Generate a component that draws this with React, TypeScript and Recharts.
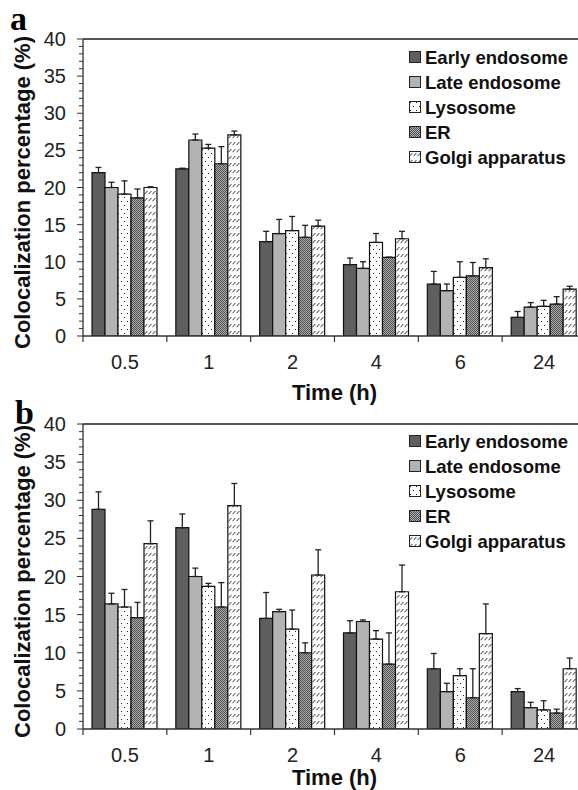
import React from "react";
import { Bar, BarChart, ErrorBar, Legend, ReferenceLine, XAxis, YAxis } from "recharts";

const times = ["0.5", "1", "2", "4", "6", "24"];
const seriesKeys = ["early", "late", "lyso", "er", "golgi"];
const seriesNames = ["Early endosome", "Late endosome", "Lysosome", "ER", "Golgi apparatus"];

// panel a
const earlyA = [22.0, 22.5, 12.7, 9.6, 7.0, 2.5];
const earlyAErr = [0.7, 0.1, 1.4, 0.9, 1.7, 0.8];
const lateA = [20.0, 26.4, 13.8, 9.1, 6.1, 3.9];
const lateAErr = [0.7, 0.8, 1.9, 0.9, 0.9, 0.6];
const lysoA = [19.1, 25.3, 14.2, 12.6, 7.9, 4.0];
const lysoAErr = [1.8, 0.5, 1.9, 1.2, 2.1, 0.8];
const erA = [18.6, 23.2, 13.3, 10.6, 8.1, 4.3];
const erAErr = [1.2, 2.3, 1.6, 0, 1.8, 1.0];
const golgiA = [20.0, 27.1, 14.8, 13.1, 9.2, 6.3];
const golgiAErr = [0.1, 0.5, 0.8, 1.0, 1.2, 0.4];

// panel b
const earlyB = [28.8, 26.4, 14.5, 12.6, 7.9, 4.9];
const earlyBErr = [2.3, 1.8, 3.4, 1.6, 2.0, 0.4];
const lateB = [16.4, 20.0, 15.4, 14.1, 4.9, 2.8];
const lateBErr = [1.4, 1.1, 0.3, 0.2, 1.1, 0.7];
const lysoB = [16.0, 18.7, 13.1, 11.8, 7.0, 2.5];
const lysoBErr = [2.3, 0.4, 2.5, 1.1, 0.9, 1.2];
const erB = [14.6, 16.0, 10.0, 8.5, 4.1, 2.1];
const erBErr = [2.0, 3.2, 1.3, 4.1, 3.8, 0.5];
const golgiB = [24.3, 29.3, 20.2, 18.0, 12.5, 7.9];
const golgiBErr = [3.0, 2.9, 3.3, 3.5, 3.9, 1.4];

const yTicks = Array.from({ length: 41 }, (_, i) => i);

const FONT = '"Liberation Sans", Arial, sans-serif';
const CHART_W = 586;
const Y_AXIS_W = 60;
const MARGIN_LEFT = 23;
const BAND = (CHART_W - Y_AXIS_W - MARGIN_LEFT) / times.length;

function buildRows(values: number[][], errs: number[][]) {
  return times.map((t, i) => {
    const row: any = { time: t };
    seriesKeys.forEach((k, s) => {
      row[k] = values[s][i];
      row[k + "Err"] = [0, errs[s][i]];
    });
    return row;
  });
}

const rowsA = buildRows(
  [earlyA, lateA, lysoA, erA, golgiA],
  [earlyAErr, lateAErr, lysoAErr, erAErr, golgiAErr]
);
const rowsB = buildRows(
  [earlyB, lateB, lysoB, erB, golgiB],
  [earlyBErr, lateBErr, lysoBErr, erBErr, golgiBErr]
);

const fills = (p: string) => ["#5f5f5f", "#b3b3b3", `url(#${p}-dots)`, `url(#${p}-check)`, `url(#${p}-hatch)`];

function Patterns({ p }: { p: string }) {
  return (
    <defs>
      <pattern id={`${p}-dots`} width="6" height="8" patternUnits="userSpaceOnUse">
        <rect width="6" height="8" fill="#fff" />
        <rect x="1" y="1" width="1" height="1" fill="#222" />
        <rect x="4" y="5" width="1" height="1" fill="#222" />
      </pattern>
      <pattern id={`${p}-check`} width="2" height="2" patternUnits="userSpaceOnUse">
        <rect width="2" height="2" fill="#adadad" />
        <rect x="0" y="0" width="1" height="1" fill="#505050" />
        <rect x="1" y="1" width="1" height="1" fill="#505050" />
      </pattern>
      <pattern id={`${p}-hatch`} width="4" height="7" patternUnits="userSpaceOnUse">
        <rect width="4" height="7" fill="#fff" />
        <path d="M0.6,5.2 L3.4,2" stroke="#333" strokeWidth="1" />
      </pattern>
    </defs>
  );
}

const YTick = (props: any) => {
  const { x, y, payload } = props;
  const major = payload.value % 5 === 0;
  return (
    <g>
      <line x1={x - (major ? 6 : 4)} x2={x} y1={y} y2={y} stroke="#333" strokeWidth={1} />
      {major && (
        <text x={x - 17} y={y} textAnchor="end" dominantBaseline="central" fontSize={20} fontFamily={FONT} fill="#222">
          {payload.value}
        </text>
      )}
    </g>
  );
};

const XTick = (props: any) => {
  const { x, y, payload } = props;
  return (
    <g>
      <line x1={x - BAND / 2} x2={x - BAND / 2} y1={y} y2={y + 6} stroke="#333" strokeWidth={1.2} />
      <text x={x} y={y + 26} textAnchor="middle" dominantBaseline="central" fontSize={20} fontFamily={FONT} fill="#222">
        {payload.value}
      </text>
    </g>
  );
};

function LegendBox({ p }: { p: string }) {
  const f = fills(p);
  return (
    <div style={{ fontFamily: FONT, fontWeight: 700, fontSize: 18.5, color: "#111" }}>
      {seriesNames.map((n, i) => (
        <div key={n} style={{ display: "flex", alignItems: "center", height: 25, whiteSpace: "nowrap" }}>
          <svg width={13} height={13} style={{ marginRight: 3 }}>
            <rect x={0.5} y={0.5} width={11} height={11} fill={f[i]} stroke="#222" strokeWidth={1} />
          </svg>
          <span>{n}</span>
        </div>
      ))}
    </div>
  );
}

function Panel({ rows, p, top, plotTop, plotBottom, height, legendTop, titleDy }: any) {
  const f = fills(p);
  return (
    <div style={{ position: "absolute", left: 0, top, width: 578, height, overflow: "hidden" }}>
      <BarChart
        width={CHART_W}
        height={height}
        data={rows}
        margin={{ top: plotTop, right: 0, left: MARGIN_LEFT, bottom: 0 }}
        barCategoryGap={9}
        barGap={0}
      >
        <Patterns p={p} />
        <XAxis
          dataKey="time"
          height={height - plotBottom}
          tickSize={0}
          tickMargin={0}
          tickLine={false}
          tick={<XTick />}
          axisLine={{ stroke: "#333", strokeWidth: 1.3 }}
          interval={0}
          label={{
            content: (lp: any) => {
              const vb = lp.viewBox;
              return (
                <text x={vb.x + vb.width / 2} y={vb.y + titleDy} textAnchor="middle" dominantBaseline="central" fontSize={22} fontWeight={700} fontFamily={FONT} fill="#111">
                  Time (h)
                </text>
              );
            },
          }}
        />
        <YAxis
          width={Y_AXIS_W}
          domain={[0, 40]}
          ticks={yTicks}
          interval={0}
          tickSize={0}
          tickMargin={0}
          tickLine={false}
          tick={<YTick />}
          axisLine={{ stroke: "#333", strokeWidth: 1.3 }}
          allowDataOverflow
          label={{
            content: (lp: any) => {
              const vb = lp.viewBox;
              const cy = vb.y + vb.height / 2 + 5;
              return (
                <text x={22} y={cy} transform={`rotate(-90 22 ${cy})`} textAnchor="middle" dominantBaseline="central" fontSize={22} fontWeight={700} fontFamily={FONT} fill="#111">
                  Colocalization percentage (%)
                </text>
              );
            },
          }}
        />
        <ReferenceLine y={40} stroke="#555" strokeWidth={2} />
        <Legend
          layout="vertical"
          align="center"
          verticalAlign="middle"
          content={() => <LegendBox p={p} />}
          wrapperStyle={{ left: 409, top: legendTop, width: "auto" }}
        />
        {seriesKeys.map((k, i) => (
          <Bar key={k} dataKey={k} name={seriesNames[i]} fill={f[i]} stroke="#111" strokeWidth={1.2} isAnimationActive={false}>
            <ErrorBar dataKey={k + "Err"} width={3} stroke="#222" strokeWidth={1.3} direction="y" />
          </Bar>
        ))}
      </BarChart>
    </div>
  );
}

export default function App() {
  return (
    <div style={{ position: "absolute", left: 0, top: 0, width: 578, height: 790, background: "#fff" }}>
      <Panel rows={rowsA} p="pa" top={0} plotTop={39} plotBottom={336} height={406} legendTop={45} titleDy={56} />
      <Panel rows={rowsB} p="pb" top={390} plotTop={34} plotBottom={339} height={400} legendTop={39} titleDy={48} />
      <div style={{ position: "absolute", left: 10, top: 2, fontFamily: '"Liberation Serif", serif', fontWeight: 700, fontSize: 34, lineHeight: "34px" }}>a</div>
      <div style={{ position: "absolute", left: 15, top: 396, fontFamily: '"Liberation Serif", serif', fontWeight: 700, fontSize: 34, lineHeight: "34px" }}>b</div>
    </div>
  );
}
